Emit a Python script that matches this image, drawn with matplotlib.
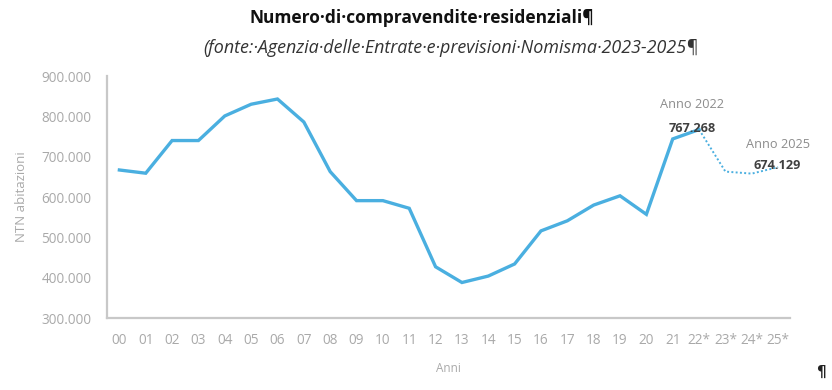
import matplotlib.pyplot as plt
from matplotlib.ticker import FuncFormatter

# compravendite residenziali (NTN), 2000-2022 storico, 2023-2025 previsioni
anni = ['00', '01', '02', '03', '04', '05', '06', '07', '08', '09', '10', '11', '12',
        '13', '14', '15', '16', '17', '18', '19', '20', '21', '22*', '23*', '24*', '25*']
storico = [667000, 659000, 740000, 740000, 801000, 830000, 843000, 786000, 663000,
           591000, 591000, 572000, 427000, 388000, 404000, 434000, 516000, 541000,
           580000, 603000, 557000, 744000, 767268]
previsioni = [767268, 663000, 658000, 674129]

blu = '#4AAFE0'
grigio = '#A9A9A9'

fig = plt.figure(figsize=(8.32, 3.90), dpi=100)
ax = fig.add_axes([0.1286, 0.1846, 0.8209, 0.6205])

x_storico = list(range(len(storico)))
x_prev = list(range(len(storico) - 1, len(anni)))
ax.plot(x_storico, storico, color=blu, lw=2.4, solid_joinstyle='miter')
ax.plot(x_prev, previsioni, color=blu, lw=1.4, ls=(0, (1, 1.2)))

ax.set_xlim(-0.47, 25.45)
ax.set_ylim(300000, 900000)
ax.set_xticks(range(len(anni)))
ax.set_xticklabels(anni)
ax.set_yticks(range(300000, 900001, 100000))
ax.yaxis.set_major_formatter(FuncFormatter(lambda v, p: f'{int(v):,}'.replace(',', '.')))

for s in ['top', 'right']:
    ax.spines[s].set_visible(False)
for s in ['left', 'bottom']:
    ax.spines[s].set_color('#C8C8C8')
    ax.spines[s].set_linewidth(1.6)
ax.tick_params(length=0, labelsize=9.8, labelcolor=grigio, pad=11, labelfontfamily='Open Sans')
ax.tick_params(axis='x', pad=11)

ax.set_ylabel('NTN abitazioni', color=grigio, fontsize=9.5, family='Open Sans', labelpad=10)
ax.set_xlabel('Anni', color=grigio, fontsize=8.5, family='Open Sans', labelpad=10)

# etichette dei punti 2022 e 2025
i22 = len(storico) - 1
ax.annotate('Anno 2022', (i22, storico[-1]), xytext=(-5, 18), textcoords='offset points',
            ha='center', va='center', color='#8C8C8C', fontsize=9.2, family='Open Sans')
ax.annotate(f'{storico[-1]:,}'.replace(',', '.'), (i22, storico[-1]), xytext=(-5, 0.5),
            textcoords='offset points', ha='center', va='center', color='#404040',
            fontsize=9.2, fontweight='bold', family='Open Sans')
ax.annotate('Anno 2025', (len(anni) - 1, previsioni[-1]), xytext=(0, 16),
            textcoords='offset points', ha='center', va='center', color='#8C8C8C',
            fontsize=9.2, family='Open Sans')
ax.annotate(f'{previsioni[-1]:,}'.replace(',', '.'), (len(anni) - 1, previsioni[-1]),
            xytext=(-1, 1), textcoords='offset points', ha='center', va='center',
            color='#404040', fontsize=9.2, fontweight='bold', family='Open Sans')

fig.text(0.507, 0.953, 'Numero\u00b7di\u00b7compravendite\u00b7residenziali\u00b6', ha='center',
         va='center', fontsize=12.5, fontweight='bold', color='#111111',
         family=['Open Sans', 'DejaVu Sans'])
fig.text(0.542, 0.878, '(fonte:\u00b7Agenzia\u00b7delle\u00b7Entrate\u00b7e\u00b7previsioni\u00b7Nomisma\u00b72023-2025\u00b6',
         ha='center', va='center', fontsize=12.9, style='italic', color='#333333',
         family=['Open Sans', 'DejaVu Sans'])
fig.text(0.992, 0.045, '\u00b6', ha='right', va='center', fontsize=11, fontweight='bold',
         color='#222222')

fig.savefig('out.png', dpi=100)
